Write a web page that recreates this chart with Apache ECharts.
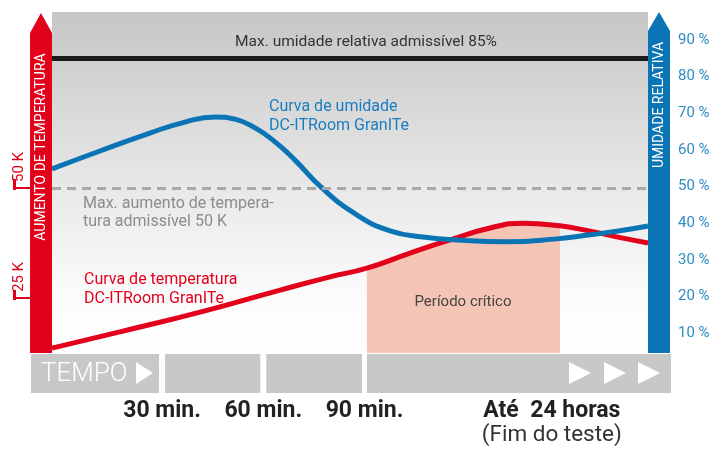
<!DOCTYPE html>
<html><head><meta charset="utf-8">
<script src="https://cdn.jsdelivr.net/npm/echarts@6/dist/echarts.min.js"></script>
<style>html,body{margin:0;padding:0;background:#fff}#c{width:724px;height:450px}</style>
</head><body><div id="c"></div>
<script>
// ---- data ----
const timeTicks = [30, 60, 90, 145.5];            // schematic minutes
const timeLabels = ['30 min.', '60 min.', '90 min.', 'Até  24 horas'];
const endNote = '(Fim do teste)';
const humidityTicks = [10, 20, 30, 40, 50, 60, 70, 80, 90];
const tempTicks = [25, 50];
const humidityCurve = [
  [-2.6, 54.8], [11.6, 59.7], [26.4, 64.6], [36.8, 67.6], [45.7, 69.0], [51.6, 68.4],
  [57.6, 66.0], [63.5, 62.2], [69.4, 57.2], [77.4, 49.6], [87.8, 42.2], [97.6, 37.9],
  [107.3, 36.2], [117.4, 35.4], [132.2, 34.9], [147.0, 35.7], [156.8, 36.8],
  [165.7, 37.9], [174.0, 39.2]
];
const tempCurve = [
  [-2.6, 13.6], [17.5, 17.3], [41.3, 21.8], [65.0, 26.8], [79.8, 29.8], [90.7, 31.8],
  [103.5, 35.2], [115.3, 38.2], [127.2, 40.9], [137.0, 42.0], [147.9, 41.4],
  [156.8, 40.2], [166.6, 38.6], [174.0, 37.5]
];
const criticalPeriod = [90.7, 147.9];
const maxHumidity = 85;   // %
const maxTempRise = 50;   // K

const RED = '#e2001a', BLUE = '#0a74b4';
const chart = echarts.init(document.getElementById('c'));
const criticalData = tempCurve.filter(p => p[0] >= criticalPeriod[0] && p[0] <= criticalPeriod[1]);

chart.setOption({
  animation: false,
  textStyle: { fontFamily: 'Roboto' },
  grid: {
    left: 52, right: 76, top: 12, bottom: 97, show: true, borderWidth: 0,
    backgroundColor: { type: 'linear', x: 0, y: 0, x2: 0, y2: 1, colorStops: [
      { offset: 0, color: '#c6c6c6' }, { offset: 0.5, color: '#e7e7e7' },
      { offset: 0.82, color: '#fbfbfb' }, { offset: 1, color: '#ffffff' } ] }
  },
  xAxis: {
    type: 'value', min: -2.6, max: 174,
    axisLine: { show: false }, axisTick: { show: false }, splitLine: { show: false },
    axisLabel: {
      customValues: timeTicks, margin: 46,
      formatter: v => {
        const i = timeTicks.indexOf(v);
        return i === 3 ? '{b|' + timeLabels[i] + '}\n{r|' + endNote + '}' : '{b|' + timeLabels[i] + '}';
      },
      rich: {
        b: { fontFamily: 'Roboto', fontSize: 23, fontWeight: 'bold', color: '#222', lineHeight: 24 },
        r: { fontFamily: 'Roboto', fontSize: 22.5, color: '#333', lineHeight: 24 }
      }
    }
  },
  yAxis: [
    {
      type: 'value', min: 12.5, max: 90, position: 'left', offset: 22,
      axisLine: { show: false }, splitLine: { show: false }, axisTick: { show: false },
      axisLabel: { customValues: tempTicks, formatter: '{value} K', rotate: 90, color: RED, fontSize: 15,
        align: 'left', verticalAlign: 'middle', margin: 11, padding: [0, 0, 0, 6] }
    },
    {
      type: 'value', min: 4.54, max: 97.65, position: 'right',
      axisLine: { show: false }, axisTick: { show: false }, splitLine: { show: false },
      axisLabel: { customValues: humidityTicks, formatter: '{value} %', color: '#2e8bc4', fontSize: 15, margin: 30 }
    }
  ],
  series: [
    {
      type: 'line', yAxisIndex: 0, data: criticalData, smooth: true, symbol: 'none',
      lineStyle: { width: 0 }, areaStyle: { color: '#f4c5b4', opacity: 1, origin: 'start' }, z: 1, silent: true
    },
    {
      type: 'line', yAxisIndex: 0, data: tempCurve, smooth: true, symbol: 'none', z: 3,
      lineStyle: { color: RED, width: 5 }, itemStyle: { color: RED },
      markLine: { silent: true, symbol: 'none', label: { show: false },
        lineStyle: { color: '#a9a9a9', width: 3, type: [9, 6] }, data: [{ yAxis: maxTempRise }] }
    },
    {
      type: 'line', yAxisIndex: 1, data: humidityCurve, smooth: true, symbol: 'none', z: 4,
      lineStyle: { color: BLUE, width: 5 }, itemStyle: { color: BLUE },
      markLine: { silent: true, symbol: 'none', label: { show: false },
        lineStyle: { color: '#1b1b1b', width: 5, type: 'solid' }, data: [{ yAxis: maxHumidity }] }
    }
  ]
});

// ---- decoration (frame, time strip, annotations) ----
const px = t => chart.convertToPixel({ xAxisIndex: 0 }, t);
const p30 = px(30), p60 = px(60), p90 = px(90);
const stripTop = 354, stripH = 39, gray = '#c8c8c8';
const blocks = [[31, p30 - 3], [p30 + 3, p60 - 3], [p60 + 3, p90 - 2.5], [p90 + 2.5, 671]];
const g = [];
blocks.forEach(b => g.push({ type: 'rect', shape: { x: b[0], y: stripTop, width: b[1] - b[0], height: stripH }, style: { fill: gray }, z: 5 }));
g.push({ type: 'text', x: 41, y: 374, z: 6, style: { text: 'TEMPO', fill: '#fff', font: '300 26px Roboto', verticalAlign: 'middle' } });
const tri = (x, w) => ({ type: 'polygon', z: 6, shape: { points: [[x, 362], [x + w, 373], [x, 384]] }, style: { fill: '#fff' } });
g.push(tri(136, 17), tri(569, 22), tri(604, 22), tri(638, 22));
// temperature tick marks (left of the red bar)
tempTicks.forEach(v => {
  const y = Math.round(chart.convertToPixel({ yAxisIndex: 0 }, v));
  g.push({ type: 'line', z: 9, shape: { x1: 13, y1: y, x2: 31, y2: y }, style: { stroke: RED, lineWidth: 2 } });
  g.push({ type: 'line', z: 9, shape: { x1: 14.5, y1: y - 8, x2: 14.5, y2: y + 2 }, style: { stroke: RED, lineWidth: 3 } });
});
// vertical bars with arrow heads
g.push({ type: 'polygon', z: 10, shape: { points: [[30, 353], [30, 33], [41, 13], [52, 33], [52, 353]] }, style: { fill: RED } });
g.push({ type: 'polygon', z: 10, shape: { points: [[648, 353], [648, 31], [659, 12], [670, 31], [670, 353]] }, style: { fill: BLUE } });
g.push({ type: 'text', x: 41, y: 147, rotation: Math.PI / 2, z: 11, style: { text: 'AUMENTO DE TEMPERATURA', fill: '#fff', font: '14px Roboto', align: 'center', verticalAlign: 'middle' } });
g.push({ type: 'text', x: 659, y: 105, rotation: Math.PI / 2, z: 11, style: { text: 'UMIDADE RELATIVA', fill: '#fff', font: '14px Roboto', align: 'center', verticalAlign: 'middle' } });
// annotations
g.push({ type: 'text', x: 366, y: 42, z: 8, style: { text: 'Max. umidade relativa admissível 85%', fill: '#333', font: '15.5px Roboto', align: 'center', verticalAlign: 'middle' } });
g.push({ type: 'text', x: 269, y: 97, z: 8, style: { text: 'Curva de umidade\nDC-ITRoom GranITe', fill: '#1a7dc0', font: '16px Roboto', lineHeight: 19 } });
g.push({ type: 'text', x: 83, y: 195, z: 8, style: { text: 'Max. aumento de tempera-\ntura admissível 50 K', fill: '#8c8c8c', font: '16px Roboto', lineHeight: 18 } });
g.push({ type: 'text', x: 84, y: 270, z: 8, style: { text: 'Curva de temperatura\nDC-ITRoom GranITe', fill: RED, font: '16px Roboto', lineHeight: 19 } });
g.push({ type: 'text', x: 463, y: 302, z: 8, style: { text: 'Período crítico', fill: '#444', font: '15px Roboto', align: 'center', verticalAlign: 'middle' } });
chart.setOption({ graphic: g });
</script></body></html>
